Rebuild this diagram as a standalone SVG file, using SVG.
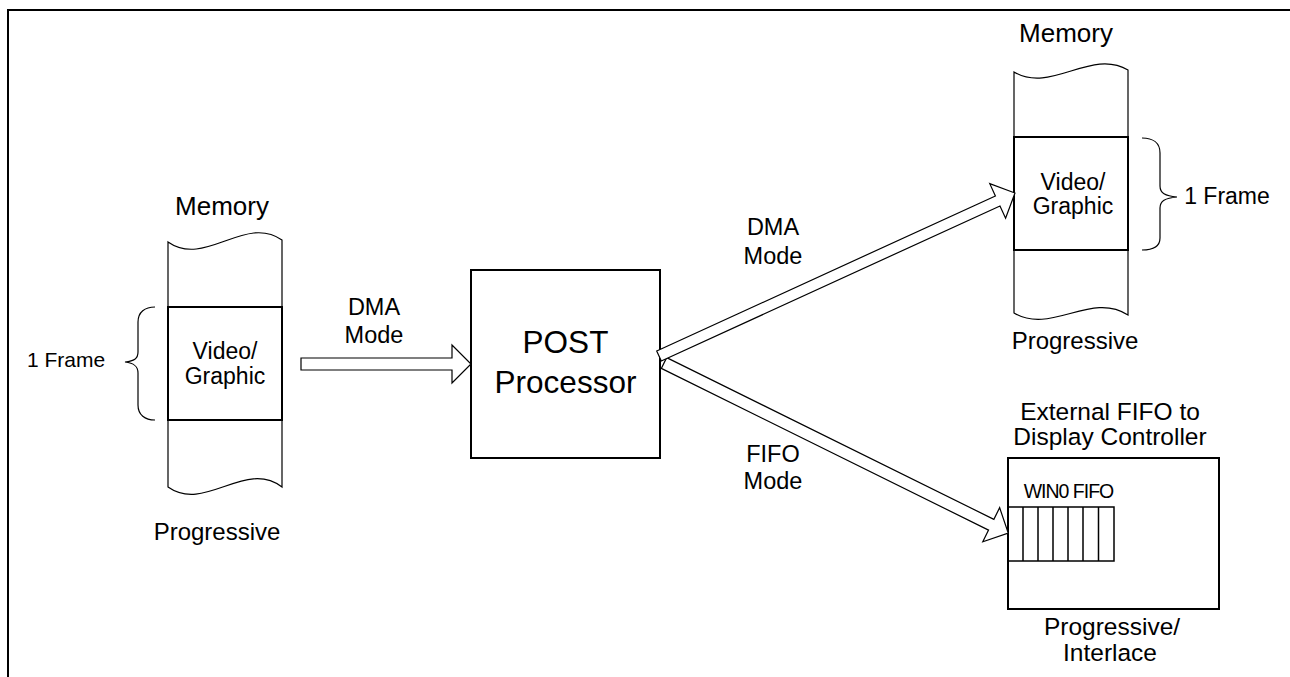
<svg xmlns="http://www.w3.org/2000/svg" width="1290" height="677" viewBox="0 0 1290 677">
<style>
text{font-family:"Liberation Sans",Arial,sans-serif;fill:#000;text-anchor:middle}
.thin{fill:none;stroke:#000;stroke-width:1.2}
.box{fill:#fff;stroke:#000;stroke-width:2}
.arr{fill:#fff;stroke:#000;stroke-width:1.2;stroke-linejoin:miter}
</style>
<rect width="1290" height="677" fill="#fff"/>
<path d="M8,677 L8,10 L1290,10" fill="none" stroke="#000" stroke-width="2"/>

<g id="memory-left">
<text x="222" y="215" font-size="26">Memory</text>
<path class="thin" d="M168,242 C205,268 245,214 282,240 L282,487 C245,459 205,513 168,487 Z"/>
<rect class="box" x="168" y="307" width="114" height="113"/>
<text x="225" y="359" font-size="23">Video/</text>
<text x="225" y="384" font-size="23">Graphic</text>
<path class="thin" d="M155,307 C145,307 138,312 138,322 L138,352 C138,359 134,361 125,362 C134,363 138,366 138,373 L138,405 C138,415 145,420 155,420"/>
<text x="66" y="367" font-size="21">1 Frame</text>
<text x="217" y="540" font-size="24">Progressive</text>
</g>

<g id="post-processor">
<rect class="box" x="471" y="270" width="189" height="188"/>
<text x="565.5" y="353" font-size="31.5">POST</text>
<text x="565.5" y="393" font-size="31.5">Processor</text>
</g>

<g id="memory-right">
<text x="1066" y="42" font-size="26">Memory</text>
<path class="thin" d="M1014,72 C1051,94 1091,48 1128,70 L1128,315 C1091,291 1051,335 1014,313 Z"/>
<rect class="box" x="1014" y="137" width="114" height="113"/>
<text x="1073" y="190" font-size="23">Video/</text>
<text x="1073" y="214" font-size="23">Graphic</text>
<path class="thin" d="M1142,138 C1153,138 1160,143 1160,153 L1160,186 C1160,193 1165,196 1177,197 C1165,198 1160,201 1160,208 L1160,238 C1160,247 1153,250 1142,250"/>
<text x="1227" y="204" font-size="23">1 Frame</text>
<text x="1075" y="349" font-size="24">Progressive</text>
</g>

<g id="fifo-display">
<text x="1110" y="420" font-size="24.5">External FIFO to</text>
<text x="1110" y="445" font-size="24.5">Display Controller</text>
<rect class="box" x="1008" y="458" width="211" height="151"/>
<text x="1068.5" y="498" font-size="19.5" letter-spacing="-1">WIN0 FIFO</text>
<g class="thin" style="stroke-width:1.5">
<rect x="1008" y="507" width="106" height="54"/>
<path d="M1023,507V561M1038,507V561M1053,507V561M1068,507V561M1083,507V561M1098.5,507V561"/>
</g>
<text x="1112" y="635" font-size="24.5">Progressive/</text>
<text x="1110" y="661" font-size="24.5">Interlace</text>
</g>

<g id="connectors">
<polygon class="arr" points="301,358 452,358 452,345 471,364 452,383 452,370 301,370"/>
<text x="374" y="315" font-size="23.5">DMA</text>
<text x="374" y="343" font-size="23.5">Mode</text>
<polygon class="arr" transform="translate(664,363) rotate(26.3)" points="0,-6 365,-6 365,-19 384,0 365,19 365,6 0,6"/>
<polygon class="arr" transform="translate(659,356) rotate(-24.6)" points="0,-5.5 372.5,-5.5 372.5,-19 391.5,0 372.5,19 372.5,5.5 0,5.5"/>
<text x="773" y="235" font-size="23.5">DMA</text>
<text x="773" y="264" font-size="23.5">Mode</text>
<text x="773" y="462" font-size="23.5">FIFO</text>
<text x="773" y="489" font-size="23.5">Mode</text>
</g>
</svg>
